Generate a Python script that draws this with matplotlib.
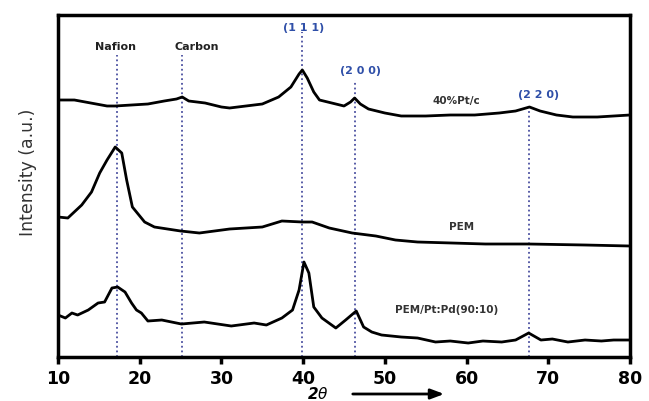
import matplotlib.pyplot as plt
from matplotlib.patches import FancyArrowPatch

# 2-theta positions (deg) and intensities (a.u.)
pt_c_x = [10, 12, 14, 16, 17, 19, 21, 23, 24.5, 25.2, 26, 28, 30, 31, 33, 35, 37, 38.5,
          39.5, 39.9, 40.5, 41.3, 42, 43, 44, 45, 45.8, 46.3, 47, 48, 50, 52, 55, 58,
          61, 64, 66, 67.7, 69, 71, 73, 76, 78, 80]
pt_c_y = [257, 257, 254, 251, 251, 252, 253, 256, 258, 260, 256, 254, 250, 249, 251, 253,
          260, 270, 283, 287, 279, 265, 257, 255, 253, 251, 255, 259, 253, 248, 244, 241,
          241, 242, 242, 244, 246, 250, 246, 242, 240, 240, 241, 242]

pem_x = [10, 11.2, 12.9, 14.1, 15.1, 16, 17, 17.8, 18.4, 19.1, 20.6, 21.8, 25, 27.3, 31,
         35, 37.4, 39.9, 41.1, 43.2, 46, 48.9, 51.3, 54, 58.2, 62.3, 67.6, 74.5, 80]
pem_y = [140, 139, 152, 165, 184, 197, 210, 204, 177, 150, 135, 130, 126, 124, 128, 130,
         136, 135, 135, 129, 124, 121, 117, 115, 114, 113, 113, 112, 111]

ptpd_x = [10, 10.9, 11.7, 12.4, 13.7, 14.9, 15.7, 16.6, 17.3, 18.2, 19, 19.6, 20.2, 21,
          22.7, 25.1, 27.9, 31.2, 34, 35.5, 37.4, 38.7, 39.5, 40.1, 40.7, 41.3, 42.3, 44,
          45.2, 46.5, 47.4, 48.4, 49.6, 52, 54, 56.2, 58, 60.2, 62, 64.3, 66, 67.6, 69.1,
          70.5, 72.4, 74.5, 76.5, 78, 80]
ptpd_y = [42, 39, 44, 42, 47, 54, 55, 69, 70, 65, 54, 47, 44, 36, 37, 33, 35, 31, 34, 32,
          39, 47, 67, 95, 84, 50, 39, 29, 37, 46, 30, 25, 22, 20, 19, 15, 16, 14, 16, 15,
          17, 24, 17, 18, 15, 17, 16, 17, 17]

ref_pos = [17.2, 25.2, 39.9, 46.3, 67.6]
ref_top = [302, 302, 325, 277, 247]

fig = plt.figure(figsize=(6.49, 4.01), dpi=100)
ax = fig.add_axes([0.0894, 0.1097, 0.8813, 0.8529])

for xp, top in zip(ref_pos, ref_top):
    ax.plot([xp, xp], [0, top], ls=(0, (1, 1.6)), color="#4a4fa0", lw=1.3, zorder=1)

for xs, ys in [(pt_c_x, pt_c_y), (pem_x, pem_y), (ptpd_x, ptpd_y)]:
    ax.plot(xs, ys, color="black", lw=2.0, zorder=3)

ax.text(17.0, 310, "Nafion", ha="center", va="center", fontsize=8, fontweight="bold", color="#222222")
ax.text(27.0, 310, "Carbon", ha="center", va="center", fontsize=8, fontweight="bold", color="#222222")
ax.text(40.0, 329, "(1 1 1)", ha="center", va="center", fontsize=8, fontweight="bold", color="#2f4fa8")
ax.text(47.0, 286, "(2 0 0)", ha="center", va="center", fontsize=8, fontweight="bold", color="#2f4fa8")
ax.text(68.8, 262, "(2 2 0)", ha="center", va="center", fontsize=8, fontweight="bold", color="#2f4fa8")
ax.text(58.8, 256, "40%Pt/c", ha="center", va="center", fontsize=7.5, fontweight="bold", color="#333333")
ax.text(59.4, 130, "PEM", ha="center", va="center", fontsize=7.5, fontweight="bold", color="#333333")
ax.text(57.6, 47, "PEM/Pt:Pd(90:10)", ha="center", va="center", fontsize=7.5, fontweight="bold", color="#333333")

ax.set_xlim(10, 80)
ax.set_ylim(0, 342)
ax.set_xticks(range(10, 81, 10))
ax.set_yticks([])
ax.tick_params(axis="x", direction="out", length=5, width=2.5, pad=4,
               labelsize=12.5)
for lab in ax.get_xticklabels():
    lab.set_fontweight("bold")
for sp in ax.spines.values():
    sp.set_linewidth(2.5)

fig.text(28 / 649, 1 - 172 / 401, "Intensity (a.u.)", rotation=90, ha="center", va="center",
         fontsize=12.5, color="#333333")

fig.text(318 / 649, 1 - 394 / 401, r"2$\theta$", ha="center", va="center",
         fontsize=11, fontweight="bold", fontstyle="italic")
fig.add_artist(FancyArrowPatch(
    (350 / 649, 1 - 394 / 401), (447 / 649, 1 - 394 / 401),
    transform=fig.transFigure, arrowstyle="-|>,head_length=8,head_width=3",
    color="black", lw=2))

fig.savefig("out.png", dpi=100)
